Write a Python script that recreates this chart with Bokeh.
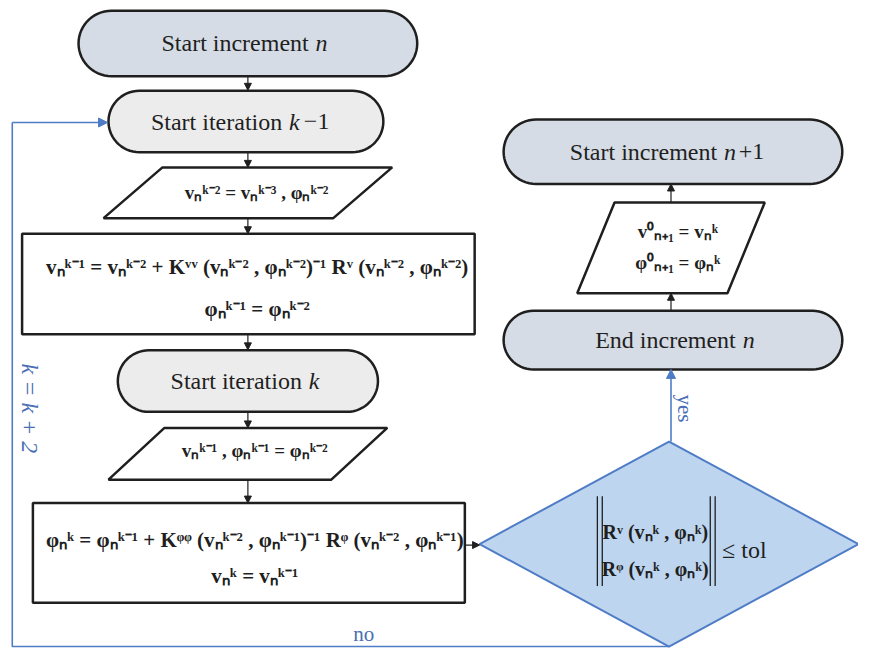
import math
from bokeh.plotting import figure
from bokeh.models import Range1d, ColumnDataSource, Arrow, NormalHead
from bokeh.embed import file_html
from bokeh.resources import INLINE
from bokeh.core.properties import value

# ---------------- content ----------------
term_main = ["Start increment", "Start iteration", "Start iteration", "End increment", "Start increment"]
term_var = ["n", "k", "k", "n", "n"]
term_suffix = ["", "−1", "", "", "+1"]
term_kind = ["outer", "inner", "inner", "outer", "outer"]

io_text = [
    ["vₙᵏ⁻² = vₙᵏ⁻³ , φₙᵏ⁻²"],
    ["vₙᵏ⁻¹ , φₙᵏ⁻¹ = φₙᵏ⁻²"],
    ["v⁰ₙ₊₁ = vₙᵏ", "φ⁰ₙ₊₁ = φₙᵏ"],
]
proc_text = [
    ["vₙᵏ⁻¹ = vₙᵏ⁻² + Kᵛᵛ (vₙᵏ⁻² , φₙᵏ⁻²)⁻¹ Rᵛ (vₙᵏ⁻² , φₙᵏ⁻²)", "φₙᵏ⁻¹ = φₙᵏ⁻²"],
    ["φₙᵏ = φₙᵏ⁻¹ + Kᵠᵠ (vₙᵏ⁻² , φₙᵏ⁻¹)⁻¹ Rᵠ (vₙᵏ⁻² , φₙᵏ⁻¹)", "vₙᵏ = vₙᵏ⁻¹"],
]
decision_rows = ["Rᵛ (vₙᵏ , φₙᵏ)", "Rᵠ (vₙᵏ , φₙᵏ)"]
decision_rhs = "≤ tol"
yes_label = "yes"
no_label = "no"
loop_label = "k = k + 2"

# ---------------- layout (pixel-like units of the drawing) ----------------
term_cx = [252, 250, 252, 685, 685]
term_cy = [44, 124, 390, 348, 155]
term_w = [345, 280, 265, 345, 345]
term_h = [67, 63, 63, 60, 66]
term_split = [62, 37, 55, 64, 45]

io_cx = [252, 252, 683]
io_cy = [197, 464.5, 253.5]
io_w = [234, 227, 153]
io_h = [52, 53, 93]
io_slant = [60, 57, 38]
io_dy = [[0], [-3], [-17, 15]]
io_tx = [9, 7, 7]

proc_cx = [252.5, 253]
proc_cy = [290.5, 566]
proc_w = [461, 440]
proc_h = [103, 102]
proc_dy = [[-17, 26], [-13, 24]]
proc_tx = [9, 6]

dec_cx, dec_cy, dec_hw, dec_hh = 681, 557, 193, 105

flow_x0 = [252, 252, 252, 252, 252, 252, 473, 683, 683]
flow_y0 = [77, 155, 223, 342, 421, 491, 558, 318, 207]
flow_x1 = [252, 252, 252, 252, 252, 252, 488, 683, 683]
flow_y1 = [92, 171, 239, 358, 438, 515, 558, 300, 188]

loop_x = [681, 12, 12]
loop_y = [662, 662, 125]

# ---------------- styles ----------------
INK = "#1f1f1f"
BLUE = "#4f7cc6"
TEXT_BLUE = "#4a6fb5"
OUTER_FILL = "#d6dce5"
INNER_FILL = "#ececec"
DEC_FILL = "#bdd5ee"
SERIF = "Liberation Serif"

p = figure(width=858, height=648, x_range=Range1d(0, 874), y_range=Range1d(664, 0),
           output_backend="svg", toolbar_location=None, min_border=0)
p.axis.visible = False
p.grid.visible = False
p.outline_line_color = None
p.background_fill_color = "white"


def stadium(cx, cy, w, h, n=30):
    r = h / 2.0
    xs, ys = [], []
    for i in range(n + 1):
        a = -math.pi / 2 + math.pi * i / n
        xs.append(cx + w / 2 - r + r * math.cos(a))
        ys.append(cy + r * math.sin(a))
    for i in range(n + 1):
        a = math.pi / 2 + math.pi * i / n
        xs.append(cx - w / 2 + r + r * math.cos(a))
        ys.append(cy + r * math.sin(a))
    return xs, ys


# blue loop (drawn first so shapes sit on top)
p.line(loop_x, loop_y, line_color=BLUE, line_width=1.6)
p.add_layout(Arrow(end=NormalHead(size=9, fill_color=BLUE, line_color=BLUE),
                   x_start=loop_x[-1], y_start=loop_y[-1],
                   x_end=term_cx[1] - term_w[1] / 2 - 1, y_end=loop_y[-1],
                   line_color=BLUE, line_width=1.6))

# decision diamond
p.patch([dec_cx - dec_hw, dec_cx, dec_cx + dec_hw, dec_cx],
        [dec_cy, dec_cy - dec_hh, dec_cy, dec_cy + dec_hh],
        fill_color=DEC_FILL, line_color=BLUE, line_width=2)

# yes arrow
p.add_layout(Arrow(end=NormalHead(size=9, fill_color=BLUE, line_color=BLUE),
                   x_start=dec_cx + 2, y_start=dec_cy - dec_hh,
                   x_end=dec_cx + 2, y_end=term_cy[3] + term_h[3] / 2,
                   line_color=BLUE, line_width=1.6))

# terminators
txs, tys, tfill = [], [], []
for cx, cy, w, h, k in zip(term_cx, term_cy, term_w, term_h, term_kind):
    xs, ys = stadium(cx, cy, w, h)
    txs.append(xs)
    tys.append(ys)
    tfill.append(OUTER_FILL if k == "outer" else INNER_FILL)
p.patches(txs, tys, fill_color=tfill, line_color=INK, line_width=2.5)

p.text(x=[c + s for c, s in zip(term_cx, term_split)], y=term_cy, text=term_main,
       text_align="right", text_baseline="middle", text_font=value(SERIF),
       text_font_size="24px", text_color=INK)
p.text(x=[c + s + 7 for c, s in zip(term_cx, term_split)], y=term_cy, text=term_var,
       text_align="left", text_baseline="middle", text_font=value(SERIF),
       text_font_size="24px", text_font_style="italic", text_color=INK)
p.text(x=[c + s + 22 for c, s in zip(term_cx, term_split)], y=term_cy, text=term_suffix,
       text_align="left", text_baseline="middle", text_font=value(SERIF),
       text_font_size="24px", text_color=INK)

# input/output parallelograms
pxs, pys = [], []
for cx, cy, w, h, s in zip(io_cx, io_cy, io_w, io_h, io_slant):
    top, bot = cy - h / 2, cy + h / 2
    pxs.append([cx - w / 2 + s / 2, cx + w / 2 + s / 2, cx + w / 2 - s / 2, cx - w / 2 - s / 2])
    pys.append([top, top, bot, bot])
p.patches(pxs, pys, fill_color="white", line_color=INK, line_width=2.5)

# process boxes
p.rect(x=proc_cx, y=proc_cy, width=proc_w, height=proc_h,
       fill_color="white", line_color=INK, line_width=2.5)

# equations in input/output boxes
ex, ey, et = [], [], []
for cx, cy, lines, dys, tx in zip(io_cx, io_cy, io_text, io_dy, io_tx):
    for t, d in zip(lines, dys):
        ex.append(cx + tx); ey.append(cy + d); et.append(t)
p.text(x=ex, y=ey, text=et, text_align="center", text_baseline="middle",
       text_font=value(SERIF), text_font_size="19px", text_font_style="bold", text_color=INK)

# equations in process boxes
ex, ey, et = [], [], []
for cx, cy, lines, dys, tx in zip(proc_cx, proc_cy, proc_text, proc_dy, proc_tx):
    for t, d in zip(lines, dys):
        ex.append(cx + tx); ey.append(cy + d); et.append(t)
p.text(x=ex, y=ey, text=et, text_align="center", text_baseline="middle",
       text_font=value(SERIF), text_font_size="21px", text_font_style="bold", text_color=INK)

# decision content
p.text(x=[dec_cx - 14] * 2, y=[dec_cy - 12, dec_cy + 26], text=decision_rows,
       text_align="center", text_baseline="middle", text_font=value(SERIF),
       text_font_size="20px", text_font_style="bold", text_color=INK)
bx = [dec_cx - 73, dec_cx - 68, dec_cx + 42, dec_cx + 47]
p.segment(x0=bx, y0=[dec_cy - 49] * 4, x1=bx, y1=[dec_cy + 43] * 4, line_color=INK, line_width=1.3)
p.text(x=[dec_cx + 54], y=[dec_cy + 6], text=[decision_rhs], text_align="left",
       text_baseline="middle", text_font=value(SERIF), text_font_size="24px", text_color=INK)

# black flow arrows
p.add_layout(Arrow(end=NormalHead(size=7, fill_color=INK, line_color=INK),
                   source=ColumnDataSource(dict(x0=flow_x0, y0=flow_y0, x1=flow_x1, y1=flow_y1)),
                   x_start="x0", y_start="y0", x_end="x1", y_end="y1",
                   line_color=INK, line_width=1.2))

# branch labels
p.text(x=[dec_cx + 16], y=[418], text=[yes_label], angle=-math.pi / 2, text_align="center",
       text_baseline="middle", text_font=value(SERIF), text_font_size="21px", text_color=TEXT_BLUE)
p.text(x=[370], y=[649], text=[no_label], text_align="center", text_baseline="middle",
       text_font=value(SERIF), text_font_size="21px", text_color=TEXT_BLUE)
p.text(x=[30], y=[418], text=[loop_label], angle=-math.pi / 2, text_align="center",
       text_baseline="middle", text_font=value(SERIF), text_font_size="24px",
       text_font_style="italic", text_color=TEXT_BLUE)

open("out.html", "w").write(file_html(p, INLINE))
